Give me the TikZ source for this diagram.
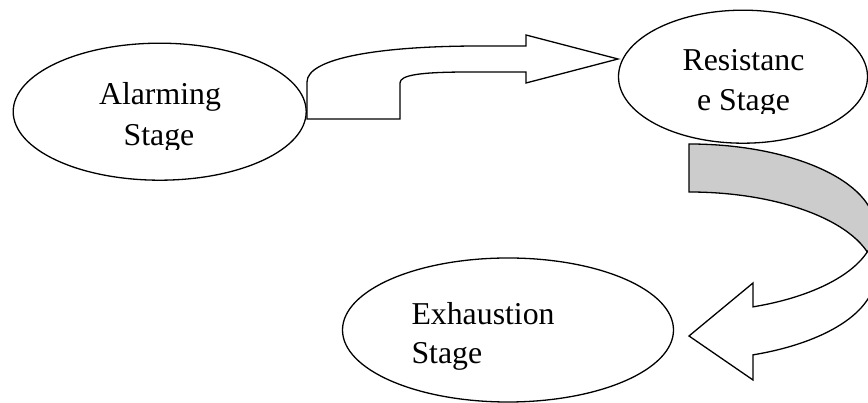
\documentclass[tikz,border=0pt]{standalone}
\usepackage{fontspec}
\setmainfont{Liberation Serif}
\usetikzlibrary{shapes.geometric}
\begin{document}
\begin{tikzpicture}[x=1pt,y=1pt,
  line width=1.3pt, line join=miter,
  stagebox/.style={draw=black, ellipse, inner sep=0pt, outer sep=0pt},
  stagetext/.style={inner sep=0pt, outer sep=0pt, font=\fontsize{31.8}{38}\selectfont},
  blockarrow/.style={draw=black, fill=white},
  backface/.style={draw=black, fill=black!20}]
\useasboundingbox (0,0) rectangle (868,403);
\clip (0,0) rectangle (868,403);

% stage ellipses
\node[stagebox, minimum width=293pt, minimum height=137pt] (alarm) at (159.7,291.3) {};
\node[stagebox, minimum width=249pt, minimum height=133pt] (resist) at (743,326.3) {};
\node[stagebox, minimum width=331pt, minimum height=144pt] (exhaust) at (508,73) {};

% labels (the second lines are cut off at the bottom of their text boxes)
\node[stagetext, anchor=base] (alarm1) at (160,298) {Alarming};
\begin{scope}
  \clip (0,253) rectangle (868,403);
  \node[stagetext, anchor=base] (alarm2) at (159,257) {Stage};
\end{scope}
\node[stagetext, anchor=base] (resist1) at (743.5,332.3) {Resistanc};
\begin{scope}
  \clip (0,289.7) rectangle (868,403);
  \node[stagetext, anchor=base] (resist2) at (743.5,292.3) {e Stage};
\end{scope}
\node[stagetext, anchor=base west] (exhaust1) at (411.5,78) {Exhaustion};
\node[stagetext, anchor=base west] (exhaust2) at (411.5,39.7) {Stage};

% bent block arrow from the alarming stage to the resistance stage
\path[blockarrow] (307,284) -- (307,321)
  .. controls (307,345) and (380,357) .. (480,357)
  -- (526,357) -- (526,368) -- (618,344) -- (526,320) -- (526,331) -- (470,331)
  .. controls (420,331) and (400,328) .. (400,320)
  -- (400,284) -- cycle;

% curved block arrow from the resistance stage down to the exhaustion stage
% back face (shaded)
\path[backface] (689,259)
  arc[start angle=90, end angle=0, x radius=186, y radius=84]
  -- (875,127)
  arc[start angle=0, end angle=90, x radius=186, y radius=84]
  -- cycle;
% front face with the head
\path[blockarrow] (875,127)
  arc[start angle=0, end angle=-69.87, x radius=186, y radius=84]
  -- (753,23) -- (689,67) -- (753,120) -- (753,96.13)
  arc[start angle=-69.87, end angle=0, x radius=186, y radius=84]
  -- cycle;
\end{tikzpicture}
\end{document}
